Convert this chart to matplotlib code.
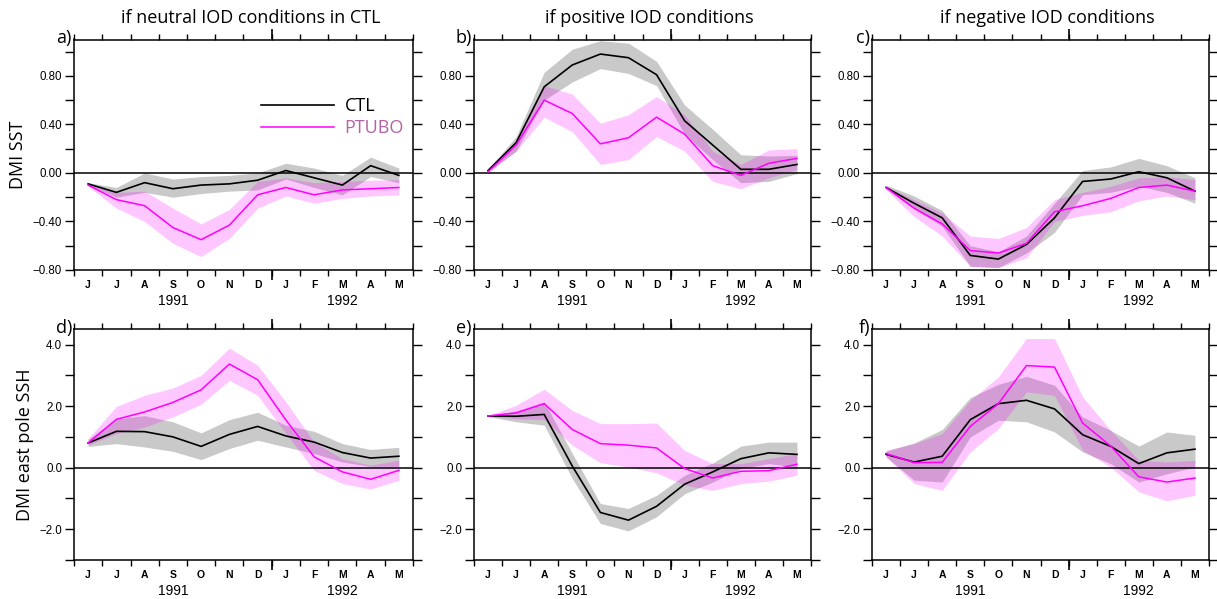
import numpy as np
import matplotlib.pyplot as plt
from matplotlib.transforms import blended_transform_factory

# month labels (June 1991 - May 1992)
months = ['J', 'J', 'A', 'S', 'O', 'N', 'D', 'J', 'F', 'M', 'A', 'M']
years = ['1991', '1992']

# panel a: DMI SST, neutral IOD
a_ctl = [-0.09, -0.16, -0.08, -0.13, -0.10, -0.09, -0.06, 0.02, -0.04, -0.10, 0.06, -0.02]
a_ctl_hi = [-0.08, -0.12, 0.00, -0.05, -0.03, -0.02, 0.00, 0.08, 0.04, -0.02, 0.13, 0.04]
a_ctl_lo = [-0.10, -0.20, -0.16, -0.20, -0.17, -0.15, -0.14, -0.05, -0.12, -0.18, -0.03, -0.08]
a_ptu = [-0.10, -0.22, -0.27, -0.45, -0.55, -0.43, -0.18, -0.12, -0.18, -0.14, -0.13, -0.12]
a_ptu_hi = [-0.09, -0.16, -0.15, -0.29, -0.42, -0.30, -0.07, -0.04, -0.08, -0.07, -0.06, -0.055]
a_ptu_lo = [-0.11, -0.29, -0.40, -0.58, -0.69, -0.54, -0.29, -0.19, -0.25, -0.21, -0.19, -0.18]

# panel b: DMI SST, positive IOD
b_ctl = [0.02, 0.25, 0.71, 0.89, 0.98, 0.95, 0.81, 0.43, 0.23, 0.03, 0.03, 0.07]
b_ctl_hi = [0.03, 0.30, 0.83, 1.02, 1.09, 1.07, 0.92, 0.56, 0.36, 0.15, 0.14, 0.145]
b_ctl_lo = [0.01, 0.18, 0.60, 0.75, 0.86, 0.82, 0.72, 0.32, 0.11, -0.08, -0.07, -0.005]
b_ptu = [0.01, 0.23, 0.60, 0.49, 0.24, 0.29, 0.46, 0.32, 0.06, -0.02, 0.08, 0.12]
b_ptu_hi = [0.015, 0.26, 0.72, 0.65, 0.41, 0.48, 0.63, 0.48, 0.18, 0.07, 0.19, 0.20]
b_ptu_lo = [0.0, 0.18, 0.46, 0.34, 0.07, 0.11, 0.30, 0.18, -0.07, -0.13, -0.04, 0.03]

# panel c: DMI SST, negative IOD
c_ctl = [-0.12, -0.25, -0.37, -0.68, -0.71, -0.59, -0.37, -0.07, -0.05, 0.01, -0.04, -0.15]
c_ctl_hi = [-0.10, -0.19, -0.31, -0.60, -0.65, -0.52, -0.25, 0.02, 0.05, 0.12, 0.06, -0.04]
c_ctl_lo = [-0.13, -0.30, -0.44, -0.77, -0.78, -0.66, -0.49, -0.18, -0.16, -0.11, -0.16, -0.25]
c_ptu = [-0.12, -0.29, -0.42, -0.64, -0.66, -0.58, -0.32, -0.27, -0.21, -0.12, -0.10, -0.15]
c_ptu_hi = [-0.11, -0.22, -0.33, -0.52, -0.54, -0.45, -0.22, -0.16, -0.11, -0.04, -0.03, -0.055]
c_ptu_lo = [-0.14, -0.36, -0.52, -0.77, -0.78, -0.70, -0.40, -0.35, -0.32, -0.23, -0.19, -0.22]

# panel d: DMI east pole SSH, neutral IOD
d_ctl = [0.80, 1.18, 1.17, 1.00, 0.69, 1.08, 1.34, 1.03, 0.83, 0.49, 0.31, 0.37]
d_ctl_hi = [0.92, 1.59, 1.69, 1.49, 1.13, 1.56, 1.80, 1.38, 1.18, 0.78, 0.59, 0.66]
d_ctl_lo = [0.69, 0.78, 0.67, 0.53, 0.26, 0.62, 0.89, 0.67, 0.46, 0.18, 0.04, 0.04]
d_ptu = [0.80, 1.57, 1.81, 2.12, 2.53, 3.37, 2.86, 1.55, 0.35, -0.14, -0.38, -0.09]
d_ptu_hi = [0.94, 1.99, 2.35, 2.59, 3.00, 3.89, 3.33, 2.14, 0.83, 0.29, 0.08, 0.24]
d_ptu_lo = [0.73, 1.11, 1.32, 1.65, 2.06, 2.84, 2.35, 1.11, -0.09, -0.52, -0.70, -0.41]

# panel e: DMI east pole SSH, positive IOD
e_ctl = [1.68, 1.67, 1.73, 0.05, -1.46, -1.71, -1.26, -0.54, -0.14, 0.29, 0.48, 0.43]
e_ctl_hi = [1.70, 1.84, 2.14, 0.46, -1.17, -1.33, -0.90, -0.25, 0.15, 0.70, 0.83, 0.83]
e_ctl_lo = [1.66, 1.49, 1.38, -0.36, -1.82, -2.06, -1.60, -0.85, -0.47, -0.03, 0.13, 0.02]
e_ptu = [1.68, 1.78, 2.08, 1.24, 0.78, 0.73, 0.64, -0.03, -0.34, -0.12, -0.10, 0.11]
e_ptu_hi = [1.70, 2.03, 2.55, 1.86, 1.43, 1.43, 1.45, 0.56, 0.13, 0.13, 0.29, 0.46]
e_ptu_lo = [1.66, 1.59, 1.56, 0.73, 0.16, 0.02, -0.17, -0.57, -0.74, -0.52, -0.44, -0.25]

# panel f: DMI east pole SSH, negative IOD
f_ctl = [0.43, 0.18, 0.37, 1.56, 2.08, 2.19, 1.91, 1.07, 0.69, 0.13, 0.48, 0.60]
f_ctl_hi = [0.54, 0.80, 1.24, 2.28, 2.71, 2.97, 2.68, 1.65, 1.21, 0.70, 1.16, 1.05]
f_ctl_lo = [0.35, -0.41, -0.47, 1.00, 1.54, 1.49, 1.16, 0.51, 0.13, -0.47, -0.20, 0.02]
f_ptu = [0.46, 0.16, 0.17, 1.34, 2.08, 3.32, 3.27, 1.45, 0.70, -0.30, -0.47, -0.34]
f_ptu_hi = [0.56, 0.78, 1.11, 2.19, 2.95, 4.20, 4.20, 2.30, 1.21, 0.24, 0.18, 0.24]
f_ptu_lo = [0.35, -0.52, -0.74, 0.51, 1.27, 2.46, 2.35, 0.56, 0.02, -0.79, -1.08, -0.90]

titles = ['if neutral IOD conditions in CTL', 'if positive IOD conditions',
          'if negative IOD conditions']
ylabels = ['DMI SST', 'DMI east pole SSH']
letters = ['a)', 'b)', 'c)', 'd)', 'e)', 'f)']

panels = [
    (a_ctl, a_ctl_lo, a_ctl_hi, a_ptu, a_ptu_lo, a_ptu_hi),
    (b_ctl, b_ctl_lo, b_ctl_hi, b_ptu, b_ptu_lo, b_ptu_hi),
    (c_ctl, c_ctl_lo, c_ctl_hi, c_ptu, c_ptu_lo, c_ptu_hi),
    (d_ctl, d_ctl_lo, d_ctl_hi, d_ptu, d_ptu_lo, d_ptu_hi),
    (e_ctl, e_ctl_lo, e_ctl_hi, e_ptu, e_ptu_lo, e_ptu_hi),
    (f_ctl, f_ctl_lo, f_ctl_hi, f_ptu, f_ptu_lo, f_ptu_hi),
]

x = np.arange(len(months)) + 0.5

W, H = 1217, 599
fig = plt.figure(figsize=(W / 100, H / 100), dpi=100)

lefts = [74, 474, 872]
widths = [339, 337, 337]
tops = [39.5, 329.3]
height = 230.5

tick_font = 'Liberation Sans'
text_font = 'Open Sans'


def fmt(v, nd):
    s = '%.*f' % (nd, v + 0.0)
    if s.startswith('-'):
        s = '\u2212' + s[1:]
    if float(s.replace('\u2212', '-')) == 0:
        s = s.replace('\u2212', '')
    return s


for i, (ctl, ctl_lo, ctl_hi, ptu, ptu_lo, ptu_hi) in enumerate(panels):
    row, col = divmod(i, 3)
    ax = fig.add_axes([lefts[col] / W, 1 - (tops[row] + height) / H,
                       widths[col] / W, height / H])

    ax.fill_between(x, ctl_lo, ctl_hi, color='black', alpha=0.21, lw=0)
    ax.fill_between(x, ptu_lo, ptu_hi, color='magenta', alpha=0.22, lw=0)
    ax.axhline(0, color='black', lw=1.1)
    ax.plot(x, ctl, color='black', lw=1.2, label='CTL')
    ax.plot(x, ptu, color='magenta', lw=1.1, label='PTUBO')

    ax.set_xlim(0, 12)
    if row == 0:
        ax.set_ylim(-0.8, 1.1)
        yt = np.round(np.arange(-0.8, 1.01, 0.2), 2)
        ax.set_yticks(yt)
        ax.set_yticklabels([fmt(v, 2) if k % 2 == 0 else '' for k, v in enumerate(yt)])
    else:
        ax.set_ylim(-3, 4.5)
        yt = np.arange(-3, 4.01, 1.0)
        ax.set_yticks(yt)
        ax.set_yticklabels([fmt(v, 1) if k % 2 == 1 else '' for k, v in enumerate(yt)])

    # month boundaries as ticks, month letters centred between them
    ax.set_xticks(np.arange(0, 13))
    ax.set_xticklabels([])
    ax.set_xticks(x, minor=True)
    ax.set_xticklabels(months, minor=True)
    ax.tick_params(axis='x', which='major', direction='out', length=4.5, width=1,
                   top=True, bottom=True)
    ax.tick_params(axis='x', which='minor', length=0, pad=7, labelsize=7.5)
    ax.tick_params(axis='y', direction='out', length=6.5, width=1, right=True,
                   labelsize=8.3, pad=2)
    for lab in ax.get_xticklabels(minor=True):
        lab.set_fontfamily(tick_font)
        lab.set_fontweight('bold')
    for lab in ax.get_yticklabels():
        lab.set_fontfamily(tick_font)

    # longer tick at the year boundary
    for side in ['top', 'bottom']:
        sec = ax.secondary_xaxis(side)
        sec.set_xticks([7])
        sec.set_xticklabels([])
        sec.tick_params(direction='out', length=7, width=1.2)
        sec.spines[side].set_visible(False)

    for sp in ax.spines.values():
        sp.set_linewidth(1.1)

    tr = blended_transform_factory(ax.transData, ax.transAxes)
    ax.text(3.5, -0.135, years[0], transform=tr, ha='center', va='center',
            fontsize=10, family=tick_font)
    ax.text(9.5, -0.135, years[1], transform=tr, ha='center', va='center',
            fontsize=10, family=tick_font)

    ax.text(-0.006, 0.985, letters[i], transform=ax.transAxes, ha='right',
            va='baseline', fontsize=13, family=text_font)

    if row == 0:
        ax.text(0.52, 1.092, titles[col], transform=ax.transAxes, ha='center',
                va='center', fontsize=13, family=text_font)
    if col == 0:
        ax.set_ylabel(ylabels[row], fontsize=13, family=text_font, labelpad=4)

    if i == 0:
        leg = ax.legend(loc='upper left', bbox_to_anchor=(0.505, 0.82), frameon=False,
                        handlelength=4.0, handletextpad=0.6, labelspacing=0.2,
                        prop={'family': text_font, 'size': 13})
        leg.get_texts()[1].set_color('#b463a8')

fig.savefig('out.png', dpi=100)
